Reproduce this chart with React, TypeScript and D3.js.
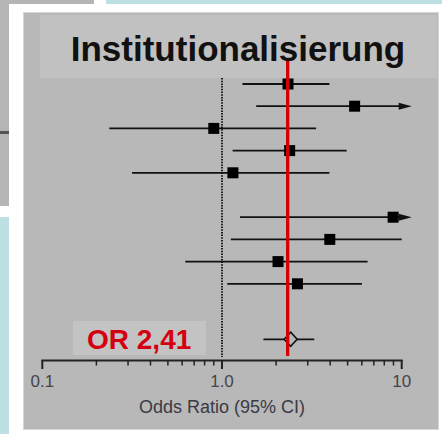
import React from "react";
import * as d3 from "d3";

const rowIndex = [0, 1, 2, 3, 4, 6, 7, 8, 9];
const oddsRatio = [2.33, 5.47, 0.9, 2.38, 1.15, 8.96, 3.98, 2.05, 2.63];
const lowerCI = [1.3, 1.55, 0.236, 1.146, 0.316, 1.26, 1.12, 0.625, 1.07];
const upperCI = [3.96, 14, 3.34, 4.94, 3.96, 14, 10.0, 6.46, 6.01];

const pooled = { row: 11.5, or: 2.41, lower: 1.7, upper: 3.26 };
const redLineValue = 2.32;
const majorTicks = [0.1, 1, 10];
const majorTickLabels = ["0.1", "1.0", "10"];
const minorTicks = [0.2, 0.3, 0.4, 0.5, 0.6, 0.7, 0.8, 0.9, 2, 3, 4, 5, 6, 7, 8, 9];

const titleText = "Institutionalisierung";
const axisTitle = "Odds Ratio (95% CI)";
const summaryLabel = "OR 2,41";

export default function App() {
  const W = 442, H = 434;
  const x = d3.scaleLog().domain([0.1, 10]).range([42.3, 401.7]);
  const y = d3.scaleLinear().domain([0, 1]).range([84, 106.2]);
  const axisY = 360.5;
  const xMax = 10;
  const font = "'Liberation Sans', Arial, Helvetica, sans-serif";

  const diamondPath = (() => {
    const cx = x(pooled.or), cy = y(pooled.row);
    const hw = 6.5, hh = 7;
    return `M${cx - hw},${cy}L${cx},${cy - hh}L${cx + hw},${cy}L${cx},${cy + hh}Z`;
  })();

  return (
    <svg
      width={W}
      height={H}
      style={{ position: "absolute", left: 0, top: 0, background: "#fff" }}
    >
      {/* background decorations */}
      <rect x={0} y={0} width={94} height={206} fill="#b5b5b5" />
      <rect x={9} y={4} width={433} height={430} fill="#ffffff" />
      <rect x={106} y={0} width={336} height={4} fill="#bde0e2" />
      <rect x={0} y={217} width={9} height={217} fill="#bde0e2" />
      <rect x={0} y={131} width={9} height={3} fill="#555" />

      {/* panel */}
      <rect x={23.5} y={12.5} width={415} height={417} fill="#b8b8b8" stroke="#d6d6d6" strokeWidth={1} />
      <rect x={40} y={15} width={397} height={63} fill="#c1c1c1" />
      <text
        x={238}
        y={61}
        textAnchor="middle"
        fontFamily={font}
        fontWeight="bold"
        fontSize={35}
        fill="#111"
      >
        {titleText}
      </text>

      {/* summary label box */}
      <rect x={73} y={321} width={133} height={34} fill="#c3c3c3" />
      <text x={87} y={348.5} fontFamily={font} fontWeight="bold" fontSize={28} fill="#d40010">
        {summaryLabel}
      </text>

      {/* null line */}
      <line
        x1={x(1)}
        x2={x(1)}
        y1={78}
        y2={357}
        stroke="#111"
        strokeWidth={1.8}
        strokeDasharray="1.5 1.2"
      />

      {/* studies */}
      {rowIndex.map((r, i) => {
        const cy = y(r);
        const lo = x(Math.max(lowerCI[i], 0.1));
        const arrow = upperCI[i] > xMax;
        const hi = x(Math.min(upperCI[i], xMax));
        const cx = x(oddsRatio[i]);
        return (
          <g key={i}>
            <line x1={lo} x2={arrow ? hi - 2 : hi} y1={cy} y2={cy} stroke="#111" strokeWidth={1.8} />
            {arrow && (
              <path d={`M${hi - 3},${cy - 3.5}L${hi + 10},${cy}L${hi - 3},${cy + 3.5}Z`} fill="#111" />
            )}
            <rect x={cx - 5.5} y={cy - 5.5} width={11} height={11} fill="#000" />
          </g>
        );
      })}

      {/* pooled */}
      <line
        x1={x(pooled.lower)}
        x2={x(pooled.upper)}
        y1={y(pooled.row)}
        y2={y(pooled.row)}
        stroke="#111"
        strokeWidth={1.8}
      />
      <path d={diamondPath} fill="#b8b8b8" stroke="#111" strokeWidth={1.6} />

      {/* red line */}
      <line
        x1={x(redLineValue)}
        x2={x(redLineValue)}
        y1={61}
        y2={356}
        stroke="#d40000"
        strokeWidth={3.3}
      />

      {/* axis */}
      <line x1={x(0.1) - 1} x2={x(10) + 1} y1={axisY} y2={axisY} stroke="#222" strokeWidth={2} />
      {majorTicks.map((t) => (
        <line key={"M" + t} x1={x(t)} x2={x(t)} y1={axisY} y2={axisY + 8.5} stroke="#222" strokeWidth={2} />
      ))}
      {minorTicks.map((t) => (
        <line key={"m" + t} x1={x(t)} x2={x(t)} y1={axisY} y2={axisY + 5} stroke="#222" strokeWidth={1.5} />
      ))}
      {majorTicks.map((t, i) => (
        <text
          key={"L" + t}
          x={x(t)}
          y={387}
          textAnchor="middle"
          fontFamily={font}
          fontSize={17}
          fill="#44444c"
        >
          {majorTickLabels[i]}
        </text>
      ))}
      <text
        x={222}
        y={412.5}
        textAnchor="middle"
        fontFamily={font}
        fontSize={18}
        fill="#3a3a44"
      >
        {axisTitle}
      </text>
    </svg>
  );
}
